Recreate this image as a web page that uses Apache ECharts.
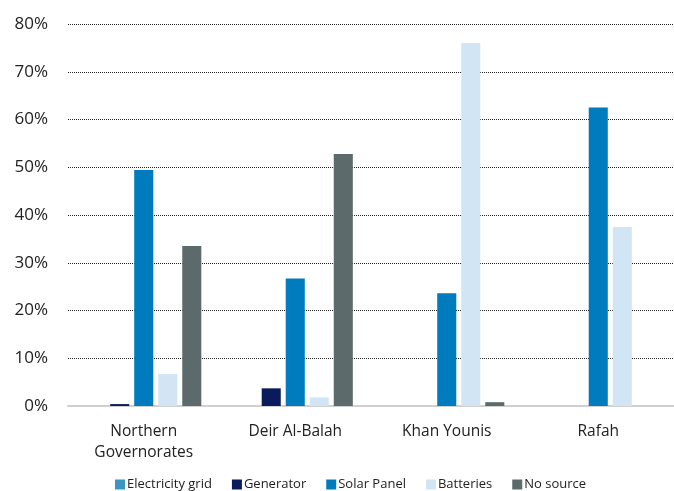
<!DOCTYPE html>
<html><head><meta charset="utf-8">
<script src="https://cdn.jsdelivr.net/npm/echarts@6/dist/echarts.min.js"></script>
<style>html,body{margin:0;padding:0;background:#fff}#c{width:674px;height:491px}</style>
</head><body><div id="c"></div>
<script>
const categories = ['Northern\nGovernorates', 'Deir Al-Balah', 'Khan Younis', 'Rafah'];
const electricityGrid = [0, 0, 0, 0];
const generator = [0.4, 3.7, 0, 0];
const solarPanel = [49.4, 26.7, 23.6, 62.5];
const batteries = [6.7, 1.8, 76.0, 37.5];
const noSource = [33.5, 52.8, 0.8, 0];
const yTicks = ['0%','10%','20%','30%','40%','50%','60%','70%','80%'];

const names = ['Electricity grid','Generator','Solar Panel','Batteries','No source'];
const colors = ['#3A97BF','#0A1A5C','#007BBD','#D2E5F5','#5C6A6B'];
const data = [electricityGrid, generator, solarPanel, batteries, noSource];
const FONT = '"Open Sans", "Noto Sans", sans-serif';

const chart = echarts.init(document.getElementById('c'), null, {renderer:'canvas'});
chart.setOption({
  animation: false,
  grid: {left: 68, right: 0, top: 24, bottom: 85, containLabel: false},
  legend: {
    bottom: -5, left: 110, itemWidth: 10, itemHeight: 10, itemGap: 20,
    icon: 'rect',
    textStyle: {fontFamily: FONT, fontSize: 13, color: '#222', padding: [0,0,0,-3]},
    data: names
  },
  xAxis: {
    type: 'category', data: categories,
    axisLine: {lineStyle: {color: '#D0D0D0', width: 2}},
    axisTick: {show: false},
    axisLabel: {fontFamily: FONT, fontSize: 15.5, color: '#222', margin: 15, lineHeight: 21}
  },
  yAxis: {
    type: 'value', min: 0, max: 80, interval: 10,
    axisLine: {show: false}, axisTick: {show: false},
    axisLabel: {fontFamily: FONT, fontSize: 17, color: '#222', margin: 20,
      formatter: (v) => yTicks[Math.round(v/10)]},
    splitLine: {lineStyle: {type: [1,1], color: '#222', width: 1}}
  },
  series: names.map((n,i) => ({
    name: n, type: 'bar', data: data[i],
    itemStyle: {color: colors[i]},
    barGap: '26%', barCategoryGap: '24%'
  }))
});
</script>
</body></html>
